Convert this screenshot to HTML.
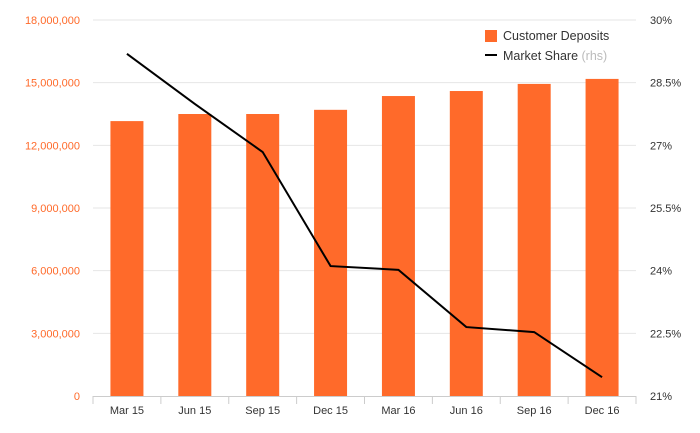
<!DOCTYPE html>
<html><head><meta charset="utf-8"><style>
body{margin:0;background:#fff;}
svg{display:block;font-family:"Liberation Sans",sans-serif;}
</style></head><body>
<svg id="chart" width="700" height="433">
<g id="grid"></g>
<g id="bars"></g>
<g id="axes"></g>
<path id="line" fill="none" stroke="#000" stroke-width="2"></path>
<g>
<rect x="485" y="30" width="12" height="12" fill="#ff6a2a"></rect>
<text x="503" y="40" font-size="12.5" fill="#333">Customer Deposits</text>
<rect x="485" y="54" width="12" height="2" fill="#000"></rect>
<text x="503" y="60" font-size="12.5" fill="#333">Market Share <tspan fill="#bbb">(rhs)</tspan></text>
</g>
</svg>
<script>
const categories=["Mar 15","Jun 15","Sep 15","Dec 15","Mar 16","Jun 16","Sep 16","Dec 16"];
const deposits=[13160000,13500000,13500000,13700000,14360000,14600000,14940000,15180000];
const marketShare=[29.19,27.99,26.84,24.11,24.02,22.65,22.53,21.45];
const leftTicks=[0,3000000,6000000,9000000,12000000,15000000,18000000];
const leftTickLabels=["0","3,000,000","6,000,000","9,000,000","12,000,000","15,000,000","18,000,000"];
const rightTicks=[21,22.5,24,25.5,27,28.5,30];
const rightTickLabels=["21%","22.5%","24%","25.5%","27%","28.5%","30%"];

const NS="http://www.w3.org/2000/svg";
const X0=93,X1=636,Y0=396,Y1=20;
const bw=(X1-X0)/categories.length;
const xC=i=>X0+bw*(i+0.5);
const yL=v=>Y0-(v-0)/(18000000)*(Y0-Y1);
const yR=v=>Y0-(v-21)/9*(Y0-Y1);
function mk(tag,attrs,parent,txt){const e=document.createElementNS(NS,tag);for(const k in attrs)e.setAttribute(k,attrs[k]);if(txt!==undefined)e.textContent=txt;parent.appendChild(e);return e;}
const grid=document.getElementById('grid'),bars=document.getElementById('bars'),axes=document.getElementById('axes');
leftTicks.forEach((t,i)=>{
  const y=yL(t);
  if(i>0){const g=mk('line',{x1:X0,x2:X1,y1:y,y2:y,stroke:'#e6e6e6','stroke-width':1},grid);
  
  }
  const l=mk('text',{x:80,y:y+4,'text-anchor':'end','font-size':11,fill:'#ff6a2a'},axes,leftTickLabels[i]);
  
  
});
rightTicks.forEach((t,i)=>{
  const l=mk('text',{x:650,y:yR(t)+4,'font-size':11,fill:'#333'},axes,rightTickLabels[i]);
  
  
});
const ax=mk('line',{x1:X0,x2:X1,y1:Y0+0.5,y2:Y0+0.5,stroke:'#ccc'},axes);


for(let i=0;i<=categories.length;i++){
  const tk=mk('line',{x1:X0+bw*i,x2:X0+bw*i,y1:Y0,y2:Y0+8,stroke:'#ccc'},axes);
  
  
}
categories.forEach((c,i)=>{
  const b=mk('rect',{x:xC(i)-16.5,y:yL(deposits[i]),width:33,height:Y0-yL(deposits[i]),fill:'#ff6a2a'},bars);
  
  
  const l=mk('text',{x:xC(i),y:414,'text-anchor':'middle','font-size':11,fill:'#333'},axes,c);
  
  
});
document.getElementById('line').setAttribute('d',marketShare.map((v,i)=>(i?'L':'M')+xC(i)+','+yR(v)).join(''));
</script>
</body></html>
